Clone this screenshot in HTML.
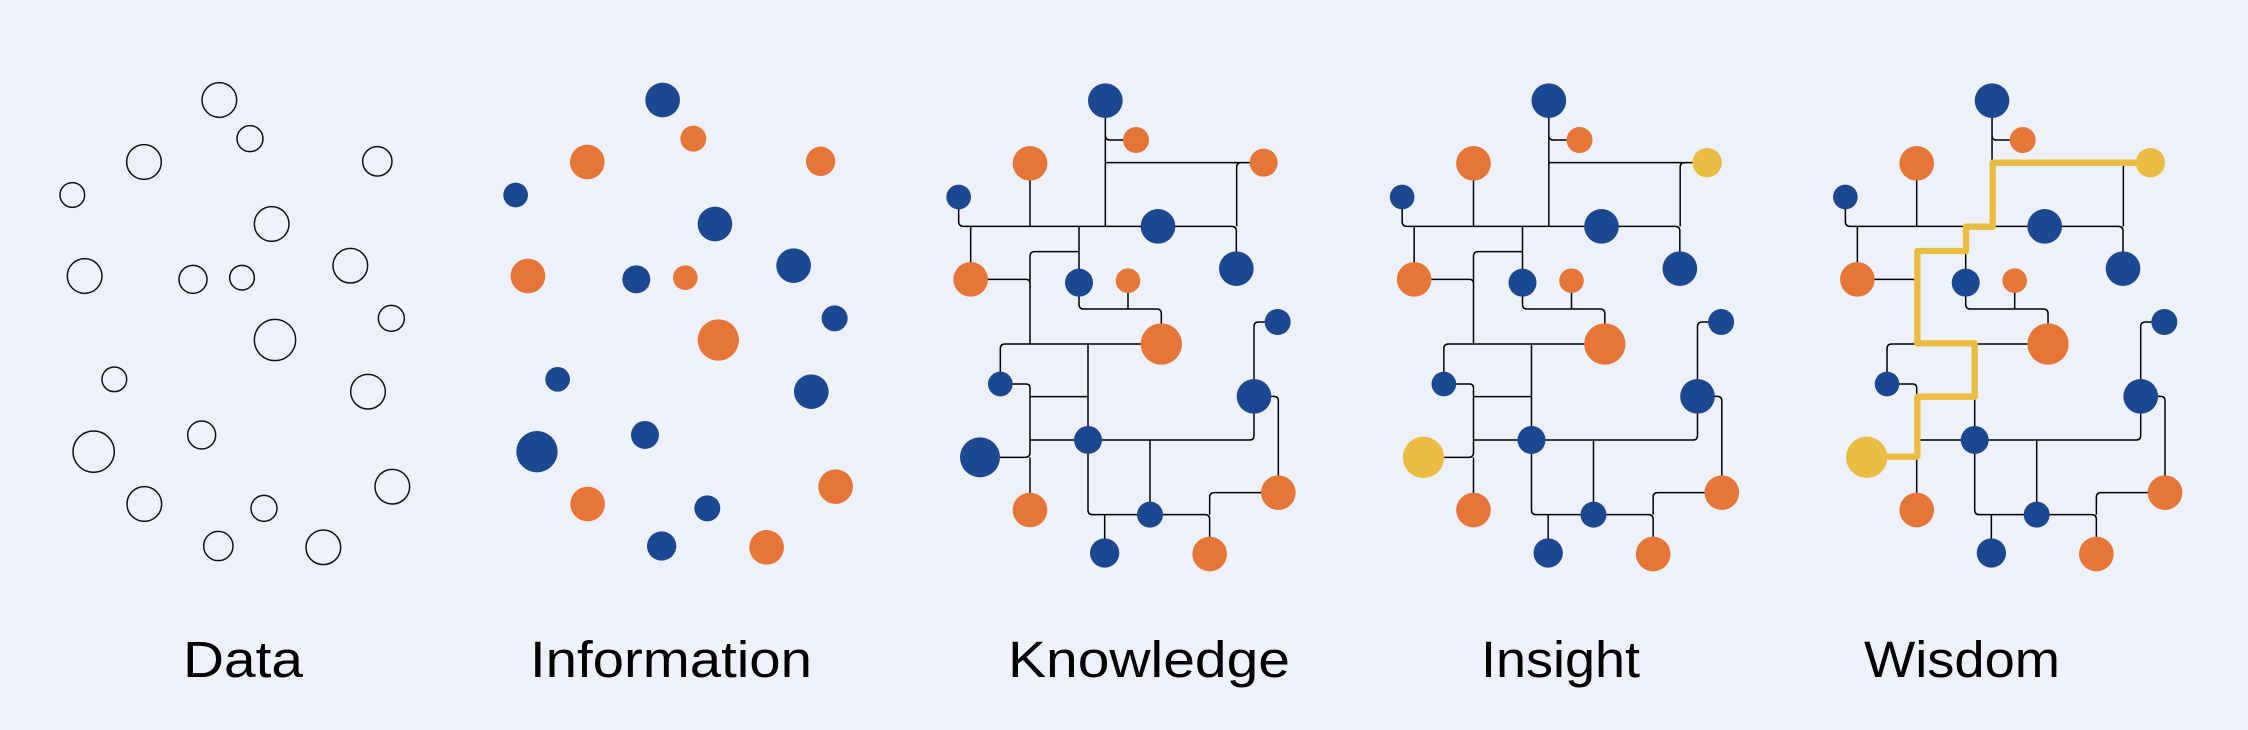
<!DOCTYPE html>
<html><head><meta charset="utf-8"><style>
html,body{margin:0;padding:0;background:#eef1fa;}
svg{display:block;}
text{font-family:"Liberation Sans",sans-serif;font-size:51px;fill:#000;}
</style></head><body>
<svg width="2248" height="730" viewBox="0 0 2248 730" xmlns="http://www.w3.org/2000/svg">
<rect width="2248" height="730" fill="#eef1fa"/>
<defs>
<g id="pts">
<circle cx="538" cy="120" r="52"/><circle cx="630" cy="236" r="39"/><circle cx="312" cy="306" r="52"/><circle cx="1012" cy="304" r="44"/><circle cx="97" cy="405" r="37"/><circle cx="695" cy="492" r="52"/><circle cx="134" cy="648" r="52"/><circle cx="459" cy="658" r="42"/><circle cx="606" cy="653" r="37"/><circle cx="931" cy="617" r="52"/><circle cx="1054" cy="775" r="39"/><circle cx="705" cy="840" r="62"/><circle cx="223" cy="958" r="37"/><circle cx="984" cy="995" r="52"/><circle cx="485" cy="1125" r="42"/><circle cx="161" cy="1175" r="62"/><circle cx="313" cy="1332" r="52"/><circle cx="672" cy="1345" r="39"/><circle cx="1057" cy="1280" r="52"/><circle cx="535" cy="1458" r="44"/><circle cx="850" cy="1462" r="52"/>
</g>
<path id="net" fill="none" stroke="#000" stroke-width="4.5" d="M526,92 V469 M526,196 Q526,210 540,210 H600 M526,278 H960 M960,278 H934 Q920,278 920,292 V469 M86,381 V455 Q86,469 100,469 H905 Q919,469 919,483 V596 M300,280 V469 M122,469 V628 M447,469 V638 M447,545 H314 Q300,545 300,559 V822 M122,628 H288 Q300,628 300,640 M447,638 V703 Q447,717 461,717 H680 Q694,717 694,731 V822 M594,632 V717 M694,822 H225 Q211,822 211,836 V942 M474,822 V1320 Q474,1334 488,1334 H825 Q839,1334 839,1348 V1452 M211,942 H288 Q300,942 300,954 V1148 Q300,1162 286,1162 H150 M300,980 H474 M300,1110 H958 Q972,1110 972,1096 V979 M1043,756 H986 Q972,756 972,770 V979 M972,979 H1031 Q1045,979 1045,993 V1268 M660,1110 V1334 M524,1334 V1449 M1045,1268 H853 Q839,1268 839,1282 V1334 M300,1162 V1320"/>
<g id="nodesA">
<circle cx="526" cy="92" r="52" fill="#1b4891"/>
<circle cx="618" cy="210" r="39" fill="#e67538"/>
<circle cx="300" cy="280" r="52" fill="#e67538"/>
<circle cx="86" cy="381" r="37" fill="#1b4891"/>
<circle cx="684" cy="469" r="52" fill="#1b4891"/>
<circle cx="919" cy="596" r="52" fill="#1b4891"/>
<circle cx="122" cy="628" r="52" fill="#e67538"/>
<circle cx="447" cy="638" r="42" fill="#1b4891"/>
<circle cx="594" cy="632" r="37" fill="#e67538"/>
<circle cx="694" cy="822" r="62" fill="#e67538"/>
<circle cx="1043" cy="756" r="39" fill="#1b4891"/>
<circle cx="211" cy="942" r="37" fill="#1b4891"/>
<circle cx="972" cy="979" r="52" fill="#1b4891"/>
<circle cx="474" cy="1110" r="42" fill="#1b4891"/>
<circle cx="300" cy="1320" r="52" fill="#e67538"/>
<circle cx="1045" cy="1268" r="52" fill="#e67538"/>
<circle cx="660" cy="1334" r="39" fill="#1b4891"/>
<circle cx="524" cy="1449" r="44" fill="#1b4891"/>
<circle cx="839" cy="1452" r="52" fill="#e67538"/>
</g>
</defs>

<!-- Data -->
<g transform="translate(40,60) scale(0.33333)" fill="none" stroke="#111" stroke-width="4.5"><use href="#pts"/></g>

<!-- Information -->
<g transform="translate(483.3,60) scale(0.33333)">
<circle cx="538" cy="120" r="52" fill="#1b4891"/><circle cx="630" cy="236" r="39" fill="#e67538"/><circle cx="312" cy="306" r="52" fill="#e67538"/><circle cx="1012" cy="304" r="44" fill="#e67538"/><circle cx="97" cy="405" r="37" fill="#1b4891"/><circle cx="695" cy="492" r="52" fill="#1b4891"/><circle cx="134" cy="648" r="52" fill="#e67538"/><circle cx="459" cy="658" r="42" fill="#1b4891"/><circle cx="606" cy="653" r="37" fill="#e67538"/><circle cx="931" cy="617" r="52" fill="#1b4891"/><circle cx="1054" cy="775" r="39" fill="#1b4891"/><circle cx="705" cy="840" r="62" fill="#e67538"/><circle cx="223" cy="958" r="37" fill="#1b4891"/><circle cx="984" cy="995" r="52" fill="#1b4891"/><circle cx="485" cy="1125" r="42" fill="#1b4891"/><circle cx="161" cy="1175" r="62" fill="#1b4891"/><circle cx="313" cy="1332" r="52" fill="#e67538"/><circle cx="672" cy="1345" r="39" fill="#1b4891"/><circle cx="1057" cy="1280" r="52" fill="#e67538"/><circle cx="535" cy="1458" r="44" fill="#1b4891"/><circle cx="850" cy="1462" r="52" fill="#e67538"/>
</g>

<!-- Knowledge -->
<g transform="translate(930,70) scale(0.33333)">
<use href="#net"/><use href="#nodesA"/>
<circle cx="1001" cy="278" r="42" fill="#e67538"/>
<circle cx="150" cy="1162" r="60" fill="#1b4891"/>
</g>

<!-- Insight -->
<g transform="translate(1373.5,70) scale(0.33333)">
<use href="#net"/><use href="#nodesA"/>
<circle cx="1001" cy="278" r="44" fill="#e9bd42"/>
<circle cx="150" cy="1162" r="62" fill="#e9bd42"/>
</g>

<!-- Wisdom -->
<g transform="translate(1816.7,70) scale(0.33333)">
<use href="#net"/><use href="#nodesA"/>
<path fill="none" stroke="#e9bd42" stroke-width="19" stroke-linejoin="round" d="M1000,278 H528 V470 H448 V543 H302 V820 H474 V980 H302 V1160 H150"/>
<circle cx="1001" cy="278" r="44" fill="#e9bd42"/>
<circle cx="150" cy="1162" r="62" fill="#e9bd42"/>
</g>

<text x="183" y="677" textLength="120" lengthAdjust="spacingAndGlyphs">Data</text>
<text x="530" y="677" textLength="282" lengthAdjust="spacingAndGlyphs">Information</text>
<text x="1008" y="677" textLength="282" lengthAdjust="spacingAndGlyphs">Knowledge</text>
<text x="1481" y="677" textLength="159" lengthAdjust="spacingAndGlyphs">Insight</text>
<text x="1864" y="677" textLength="196" lengthAdjust="spacingAndGlyphs">Wisdom</text>
</svg>
</body></html>
